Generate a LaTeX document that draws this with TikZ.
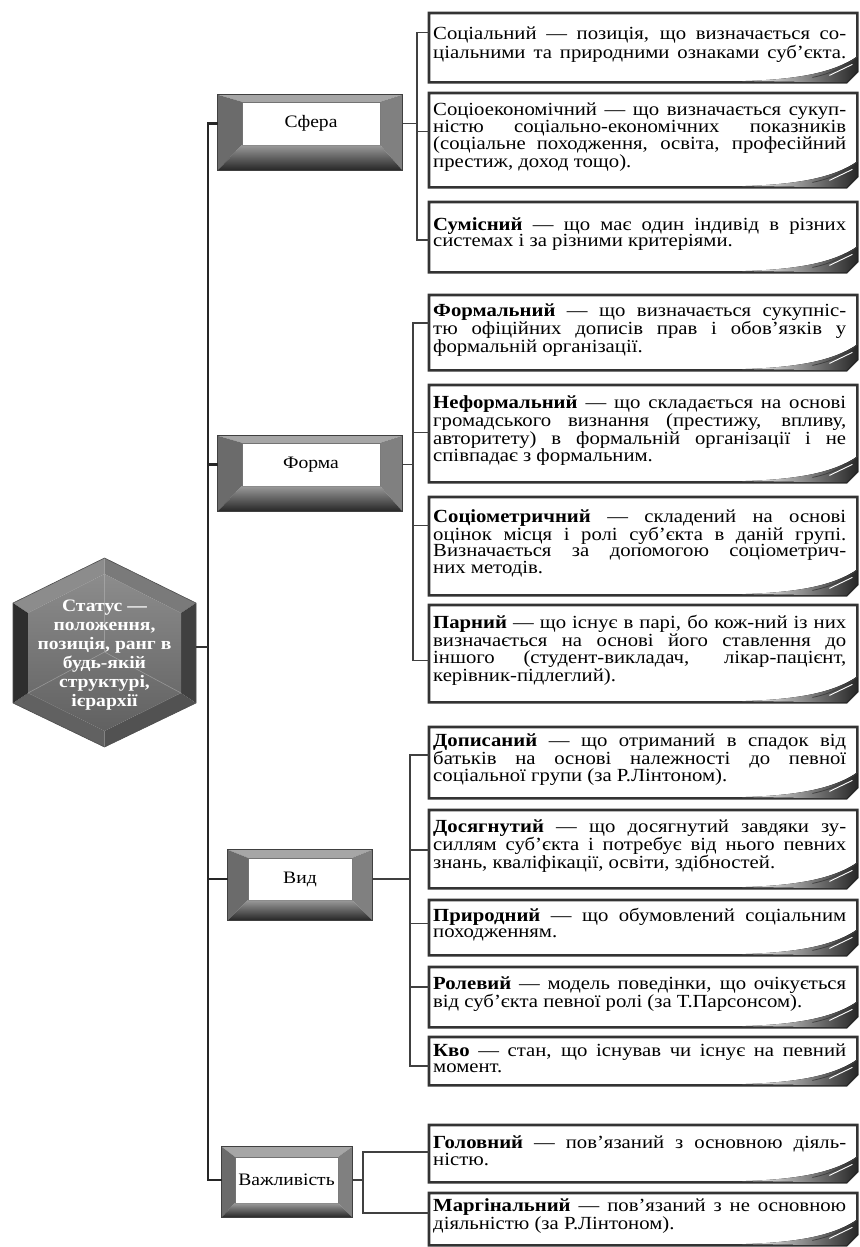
\documentclass[tikz,border=0pt]{standalone}
\usepackage{fontspec}
\setmainfont{Liberation Serif}[FakeStretch=1.12]
\usetikzlibrary{calc}
\hbadness=10000 \hfuzz=100pt \vbadness=10000
\newlength\tw \setlength\tw{413pt}
\newcommand\jl[1]{\makebox[\tw][s]{#1}}
\tikzset{
  frame/.style={draw=black!80, line width=2.6pt, line join=miter, fill=white},
  curl/.style={left color=white, right color=black!85},
  txt/.style={font=\fontsize{18.5}{16.4}\selectfont, align=left, inner sep=0pt, anchor=west},
  tbox/.style={rectangle, inner sep=0pt, minimum width=428pt, anchor=north west},
  cat/.style={rectangle, draw=black!55, line width=0.5pt, fill=white, inner sep=0pt, font=\fontsize{17.5}{20}\selectfont},
  sub/.style={draw=black!75, line width=1.3pt},
  spine/.style={draw=black!85, line width=2.6pt},
  hexconn/.style={draw=black!80, line width=1.2pt},
  hextxt/.style={font=\bfseries\fontsize{17.5}{19}\selectfont, text=white, align=center, inner sep=0pt}
}
% text box: name, top, bottom, connector fraction, text
\newcommand\tb[5]{%
  \node[tbox, minimum height={(#3-#2)*1pt}] (#1) at (429,#2) {};
  \draw[frame] (#1.north west) -- (#1.north east) -- ([yshift=11pt]#1.south east) -- ([xshift=-11pt]#1.south east) -- (#1.south west) -- cycle;
  \fill[curl] ([xshift=-115pt,yshift=1.3pt]#1.south east) .. controls ([xshift=-55pt,yshift=3pt]#1.south east) and ([xshift=-22pt,yshift=11pt]#1.south east) .. ([yshift=26pt]#1.south east) -- ([yshift=11pt]#1.south east) -- ([xshift=-11pt]#1.south east) -- cycle;
  \draw[black!75, line width=0.8pt] ([xshift=-45pt,yshift=5pt]#1.south east) .. controls ([xshift=-25pt,yshift=9pt]#1.south east) and ([xshift=-10pt,yshift=17pt]#1.south east) .. ([yshift=26pt]#1.south east);
  \draw[white, line width=0.9pt] ([xshift=-28pt,yshift=7pt]#1.south east) -- ([xshift=-5pt,yshift=18pt]#1.south east);
  \node[txt] (#1t) at ($(#1.west)+(4,-3)$) {#5};
  \coordinate (#1c) at ($(#1.north west)!#4!(#1.south west)$);
}
% bevel around a category node: name, l, t, r, b
\newcommand\bev[5]{%
  \coordinate (#1oNW) at ([xshift=-#2pt,yshift=#3pt]#1.north west);
  \coordinate (#1oNE) at ([xshift=#4pt,yshift=#3pt]#1.north east);
  \coordinate (#1oSE) at ([xshift=#4pt,yshift=-#5pt]#1.south east);
  \coordinate (#1oSW) at ([xshift=-#2pt,yshift=-#5pt]#1.south west);
  \fill[black!35] (#1oNW) -- (#1oNE) -- (#1.north east) -- (#1.north west) -- cycle;
  \fill[black!58] (#1oNW) -- (#1.north west) -- (#1.south west) -- (#1oSW) -- cycle;
  \fill[black!50] (#1oNE) -- (#1oSE) -- (#1.south east) -- (#1.north east) -- cycle;
  \shade[top color=black!40, bottom color=black!85] (#1oSW) -- (#1.south west) -- (#1.south east) -- (#1oSE) -- cycle;
  \draw[black!75, line width=0.6pt] (#1oNW) -- (#1oNE) -- (#1oSE) -- (#1oSW) -- cycle;
}
\begin{document}
\begin{tikzpicture}[x=1pt,y=-1pt]
\useasboundingbox (0,0) rectangle (859,1247);

% ---------- hexagon ----------
\coordinate (hT) at (104.5,558); \coordinate (hUR) at (196,603); \coordinate (hLR) at (196,703);
\coordinate (hB) at (104.5,747); \coordinate (hLL) at (13,703); \coordinate (hUL) at (13,603);
\coordinate (it) at (104.5,574); \coordinate (iur) at (181,613); \coordinate (ilr) at (181,693);
\coordinate (ib) at (104.5,731); \coordinate (ill) at (28,693); \coordinate (iul) at (28,613);
\coordinate (hc) at (104.5,652);
\fill[black!45] (hUL) -- (hT) -- (it) -- (iul) -- cycle;
\fill[black!52] (hT) -- (hUR) -- (iur) -- (it) -- cycle;
\fill[black!75] (hUR) -- (hLR) -- (ilr) -- (iur) -- cycle;
\fill[black!68] (hLR) -- (hB) -- (ib) -- (ilr) -- cycle;
\fill[black!62] (hB) -- (hLL) -- (ill) -- (ib) -- cycle;
\fill[black!82] (hLL) -- (hUL) -- (iul) -- (ill) -- cycle;
\shade[top color=black!45, bottom color=black!62] (it) -- (iur) -- (ilr) -- (ib) -- (ill) -- (iul) -- cycle;
\draw[black!30, line width=0.6pt, opacity=0.6] (hc) -- (it) (hc) -- (ill) (hc) -- (ilr);
\draw[black!70, line width=0.6pt] (hT) -- (hUR) -- (hLR) -- (hB) -- (hLL) -- (hUL) -- cycle;
\node[hextxt] (hex) at (104.5,655) {Статус —\\положення,\\позиція, ранг в\\будь-якій\\структурі,\\ієрархії};
\coordinate (hexR) at (196,647);

% ---------- category boxes ----------
\node[cat, minimum width=138pt, minimum height=43pt] (sfera) at (311,123.5) {Сфера};
\bev{sfera}{24}{7}{22}{25}
\node[cat, minimum width=138pt, minimum height=43pt] (forma) at (311,464.5) {Форма};
\bev{forma}{24}{7}{22}{25}
\node[cat, minimum width=104pt, minimum height=42pt] (vyd) at (300,879) {Вид};
\bev{vyd}{20}{8}{20}{20}
\node[cat, minimum width=103pt, minimum height=46pt] (vazh) at (286.5,1180) {Важливість};
\bev{vazh}{13}{10}{14}{14}

% ---------- text boxes ----------
\tb{b1}{13}{82}{0.28}{\jl{Соціальний — позиція, що визначається со-}\\\jl{ціальними та природними ознаками суб’єкта.}}
\tb{b2}{93}{187}{0.41}{\jl{Соціоекономічний — що визначається сукуп-}\\\jl{ністю соціально-економічних показників}\\\jl{(соціальне походження, освіта, професійний}\\престиж, доход тощо).}
\tb{b3}{202}{272}{0.54}{\jl{\textbf{Сумісний} — що має один індивід в різних}\\системах і за різними критеріями.}
\tb{b4}{295}{370}{0.37}{\jl{\textbf{Формальний} — що визначається сукупніс-}\\\jl{тю офіційних дописів прав і обов’язків у}\\формальній організації.}
\tb{b5}{385}{482}{0.49}{\jl{\textbf{Неформальний} — що складається на основі}\\\jl{громадського визнання (престижу, впливу,}\\\jl{авторитету) в формальній організації і не}\\співпадає з формальним.}
\tb{b6}{497}{595}{0.29}{\jl{\textbf{Соціометричний} — складений на основі}\\\jl{оцінок місця і ролі суб’єкта в даній групі.}\\\jl{Визначається за допомогою соціометрич-}\\них методів.}
\tb{b7}{605}{702}{0.57}{\jl{\textbf{Парний} — що існує в парі, бо кож-ний із них}\\\jl{визначається на основі його ставлення до}\\\jl{іншого (студент-викладач, лікар-пацієнт,}\\керівник-підлеглий).}
\tb{b8}{727}{798}{0.39}{\jl{\textbf{Дописаний} — що отриманий в спадок від}\\\jl{батьків на основі належності до певної}\\соціальної групи (за Р.Лінтоном).}
\tb{b9}{810}{888}{0.51}{\jl{\textbf{Досягнутий} — що досягнутий завдяки зу-}\\\jl{силлям суб’єкта і потребує від нього певних}\\знань, кваліфікації, освіти, здібностей.}
\tb{b10}{900}{955}{0.42}{\jl{\textbf{Природний} — що обумовлений соціальним}\\походженням.}
\tb{b11}{967}{1027}{0.33}{\jl{\textbf{Ролевий} — модель поведінки, що очікується}\\від суб’єкта певної ролі (за Т.Парсонсом).}
\tb{b12}{1037}{1085}{0.6}{\jl{\textbf{Кво} — стан, що існував чи існує на певний}\\момент.}
\tb{b13}{1125}{1182}{0.47}{\jl{\textbf{Головний} — пов’язаний з основною діяль-}\\ністю.}
\tb{b14}{1193}{1245}{0.38}{\jl{\textbf{Маргінальний} — пов’язаний з не основною}\\діяльністю (за Р.Лінтоном).}

% ---------- connectors ----------
\coordinate (s1) at ($(b1c)+(-12,0)$);
\draw[sub] (b1c) -- (s1) |- (b3c);
\draw[sub] (b2c) -- (b2c -| s1);
\draw[sub] ([xshift=22pt]sfera.east) -- (sfera.east -| s1);

\coordinate (s2) at ($(b4c)+(-16,0)$);
\draw[sub] (b4c) -- (s2) |- (b7c);
\draw[sub] (b5c) -- (b5c -| s2);
\draw[sub] (b6c) -- (b6c -| s2);
\draw[sub] ([xshift=22pt]forma.east) -- (forma.east -| s2);

\coordinate (s3) at ($(b8c)+(-19,0)$);
\draw[sub] (b8c) -- (s3) |- (b12c);
\draw[sub] (b9c) -- (b9c -| s3);
\draw[sub] (b10c) -- (b10c -| s3);
\draw[sub] (b11c) -- (b11c -| s3);
\draw[sub] ([xshift=20pt]vyd.east) -- (vyd.east -| s3);

\coordinate (s4) at ($(b13c)+(-66,0)$);
\draw[sub] (b13c) -- (s4) |- (b14c);
\draw[sub] ([xshift=14pt]vazh.east) -- (vazh.east -| s4);

\coordinate (ms) at (208,647);
\draw[spine] ([xshift=-24pt]sfera.west) -| (ms) |- ([xshift=-13pt]vazh.west);
\draw[spine] ([xshift=-24pt]forma.west) -- (forma.west -| ms);
\draw[spine] ([xshift=-20pt]vyd.west) -- (vyd.west -| ms);
\draw[hexconn] (hexR) -- (hexR -| ms);
\end{tikzpicture}
\end{document}
